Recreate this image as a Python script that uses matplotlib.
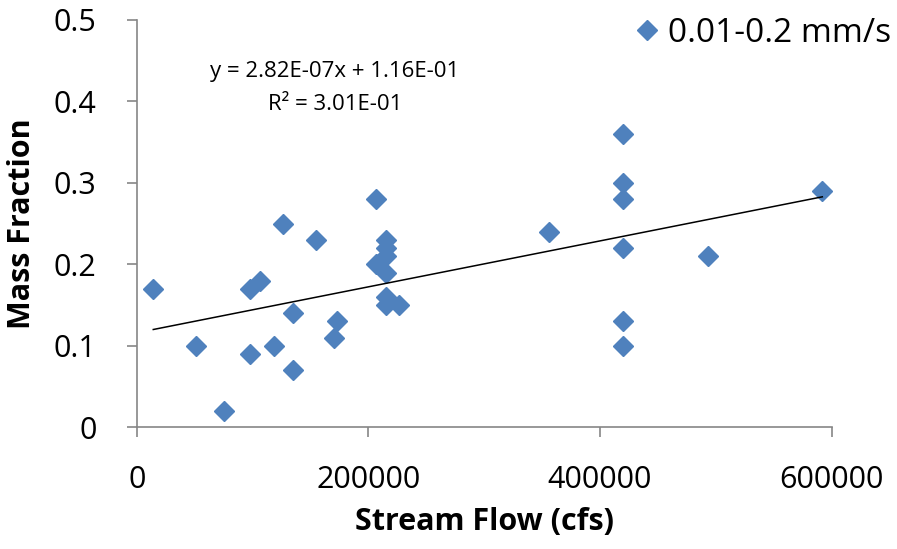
import numpy as np
import matplotlib
matplotlib.use("Agg")
import matplotlib.pyplot as plt

plt.rcParams['font.family'] = ['Open Sans', 'DejaVu Sans']

# stream flow (cfs) and mass fraction
flow = [14300, 50900, 75600, 97800, 97800, 106400, 118500, 126600, 135200, 135200,
        154500, 170600, 172700, 206600, 206600, 208600, 215000, 215000, 215000,
        215000, 215000, 215000, 226700, 355900, 420100, 420100, 420100, 420100,
        420100, 420100, 492900, 591900]
frac = [0.17, 0.10, 0.02, 0.09, 0.17, 0.18, 0.10, 0.25, 0.14, 0.07,
        0.23, 0.11, 0.13, 0.28, 0.20, 0.20, 0.23, 0.22, 0.21, 0.19,
        0.16, 0.15, 0.15, 0.24, 0.36, 0.30, 0.28, 0.22, 0.13, 0.10,
        0.21, 0.29]

# trend line as printed on the chart
slope = 2.82e-07
intercept = 1.16e-01
eq_text = "y = 2.82E-07x + 1.16E-01"
r2_text = "R² = 3.01E-01"

blue = "#4F81BD"
gray = "#868686"

fig = plt.figure(figsize=(8.97, 5.49), dpi=100)
ax = fig.add_axes([0.1524, 0.2217, 0.7748, 0.7419])

ax.plot(flow, frac, linestyle="none", marker="D", markersize=10.5,
        color=blue, label="0.01-0.2 mm/s")
xs = np.array([min(flow), max(flow)])
ax.plot(xs, slope * xs + intercept, color="black", linewidth=1.1)

ax.set_xlim(0, 600000)
ax.set_ylim(0, 0.5)
ax.set_xticks([0, 200000, 400000, 600000])
ax.set_xticklabels(["0", "200000", "400000", "600000"])
ax.set_yticks([0, 0.1, 0.2, 0.3, 0.4, 0.5])
ax.set_yticklabels(["0", "0.1", "0.2", "0.3", "0.4", "0.5"])

for s in ["top", "right"]:
    ax.spines[s].set_visible(False)
for s in ["left", "bottom"]:
    ax.spines[s].set_color(gray)
    ax.spines[s].set_linewidth(1.2)
ax.tick_params(direction="out", length=7, width=1.2, color=gray,
               labelsize=22)
ax.tick_params(axis="y", pad=22)
ax.tick_params(axis="x", pad=20)

ax.set_xlabel("Stream Flow (cfs)", fontsize=22, fontweight="bold", labelpad=9)
ax.set_ylabel("Mass Fraction", fontsize=22, fontweight="bold")
ax.yaxis.set_label_coords(-0.143, 0.5)

fig.text(335 / 897, 1 - 72 / 549, eq_text, ha="center", va="center",
         fontsize=16)
fig.text(335 / 897, 1 - 104 / 549, r2_text, ha="center", va="center",
         fontsize=16)

leg = ax.legend(loc="center left", bbox_to_anchor=(630 / 897, 1 - 33 / 549),
                bbox_transform=fig.transFigure, frameon=False, fontsize=24,
                handletextpad=0.15, handlelength=1.0, borderpad=0,
                borderaxespad=0, markerscale=1.0)

fig.savefig("out.png", dpi=100, facecolor="white")
